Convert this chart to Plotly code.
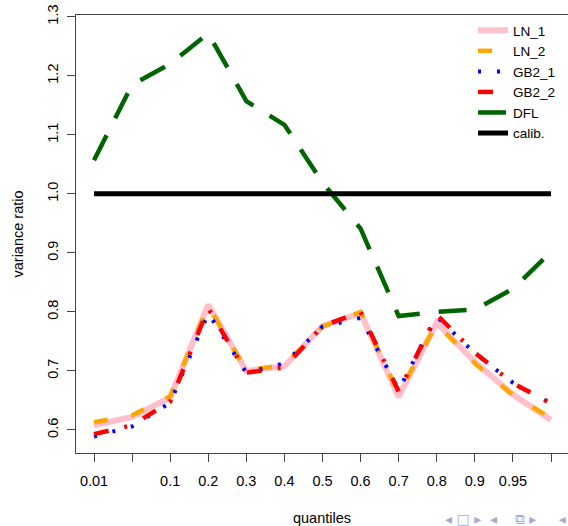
import plotly.graph_objects as go

# quantile levels (x positions are their index)
quantiles = ["0.01", "0.05", "0.1", "0.2", "0.3", "0.4", "0.5", "0.6", "0.7", "0.8", "0.9", "0.95", "0.99"]
tick_labels = ["0.01", "", "0.1", "0.2", "0.3", "0.4", "0.5", "0.6", "0.7", "0.8", "0.9", "0.95", ""]

ln_1 = [0.608, 0.622, 0.655, 0.812, 0.700, 0.708, 0.776, 0.798, 0.656, 0.782, 0.715, 0.660, 0.617]
ln_2 = [0.613, 0.625, 0.657, 0.810, 0.701, 0.710, 0.775, 0.800, 0.662, 0.780, 0.713, 0.659, 0.620]
gb2_1 = [0.589, 0.606, 0.646, 0.798, 0.697, 0.713, 0.775, 0.790, 0.668, 0.792, 0.730, 0.680, 0.645]
gb2_2 = [0.593, 0.608, 0.648, 0.806, 0.697, 0.706, 0.776, 0.800, 0.665, 0.795, 0.731, 0.679, 0.645]
dfl = [1.057, 1.185, 1.220, 1.272, 1.157, 1.117, 1.019, 0.941, 0.793, 0.800, 0.804, 0.839, 0.902]
calib = [1.0] * 13

x = list(range(1, len(quantiles) + 1))

FONT = "Liberation Sans, Arial, Helvetica, sans-serif"

series = [
    ("LN_1", ln_1, "#FFC0CB", 6, "solid"),
    ("LN_2", ln_2, "#FFA500", 4.5, "14px,24px"),
    ("GB2_1", gb2_1, "#0000FF", 4, "3px,16px"),
    ("GB2_2", gb2_2, "#FF0000", 4.5, "15px,16px,3px,18px"),
    ("DFL", dfl, "#006400", 4.5, "28px,19px"),
    ("calib.", calib, "#000000", 5, "solid"),
]

fig = go.Figure()
for name, vals, color, width, dash in series:
    fig.add_trace(go.Scatter(
        x=x, y=vals, mode="lines", name=name,
        line=dict(color=color, width=width, dash=dash),
    ))

fig.update_layout(
    width=568, height=526,
    margin=dict(l=76, r=0, t=15, b=73),
    paper_bgcolor="white", plot_bgcolor="white",
    font=dict(family=FONT, size=14.5, color="black"),
    showlegend=True,
    legend=dict(
        x=0.807, y=1.0, xanchor="left", yanchor="top",
        bgcolor="rgba(0,0,0,0)", borderwidth=0,
        font=dict(family=FONT, size=13.5, color="black"),
        itemwidth=30, tracegroupgap=0,
    ),
    xaxis=dict(
        range=[0.527, 13.446], automargin=False,
        tickmode="array", tickvals=x, ticktext=tick_labels,
        ticks="outside", ticklen=8, tickcolor="#444", tickwidth=1,
        ticklabelstandoff=7,
        showline=True, linecolor="#444", linewidth=1, mirror=True,
        showgrid=False, zeroline=False,
        tickfont=dict(size=14.5),
        title=dict(text="quantiles", standoff=32, font=dict(size=14.5)),
    ),
    yaxis=dict(
        range=[0.561, 1.303], automargin=False,
        tickmode="array", tickvals=[0.6, 0.7, 0.8, 0.9, 1.0, 1.1, 1.2, 1.3],
        ticktext=["0.6", "0.7", "0.8", "0.9", "1.0", "1.1", "1.2", "1.3"],
        tickangle=-90,
        ticks="outside", ticklen=8, tickcolor="#444", tickwidth=1,
        ticklabelstandoff=3, ticklabeloverflow="allow",
        showline=True, linecolor="#444", linewidth=1, mirror=False,
        showgrid=False, zeroline=False,
        tickfont=dict(size=14.5),
        title=dict(text="variance ratio", standoff=18, font=dict(size=14.5)),
    ),
)

nb = "\u00a0"
nav = "◂" + nb + "□" + nb + "▸" + nb * 2 + "◂" + nb * 4 + "⧉" + nb + "▸" + nb * 5 + "◂"
fig.add_annotation(
    text=nav, xref="paper", yref="paper",
    x=1.0, y=-0.151, xanchor="right", yanchor="middle", showarrow=False,
    font=dict(family="DejaVu Sans", size=14, color="#a8a8d8"),
)

# remove the browser's default 8px page margin so the figure sits at the window origin
fig.write_html(
    "out.html",
    config={"displayModeBar": False},
    post_script="document.body.style.margin='0';",
)
